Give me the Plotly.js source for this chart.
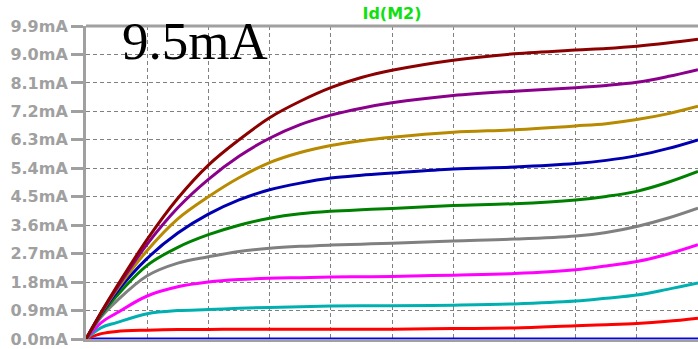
<!DOCTYPE html>
<html>
<head>
<meta charset="utf-8">
<script src="https://cdn.plot.ly/plotly-3.0.1.min.js"></script>
<style>html,body{margin:0;padding:0;background:#fff;}#chart{width:698px;height:349px;}</style>
</head>
<body>
<div id="chart"></div>
<script>
// Drain voltage sweep (V)
const vds = [0, 0.25, 0.5, 1, 1.5, 2, 2.5, 3, 3.5, 4, 4.5, 5, 6, 7, 8, 8.5, 9, 9.5, 10];
// Id(M2) in mA for each gate-voltage step (top to bottom)
const idDarkRed = [0, 0.85, 1.65, 3.15, 4.45, 5.5, 6.3, 7.0, 7.52, 7.95, 8.27, 8.5, 8.82, 9.02, 9.14, 9.19, 9.26, 9.36, 9.48];
const idPurple  = [0, 0.84, 1.6, 3.0, 4.15, 5.05, 5.78, 6.35, 6.78, 7.08, 7.3, 7.47, 7.7, 7.84, 7.95, 8.02, 8.12, 8.3, 8.52];
const idGold    = [0, 0.82, 1.55, 2.8, 3.8, 4.5, 5.1, 5.58, 5.9, 6.12, 6.27, 6.38, 6.54, 6.62, 6.74, 6.81, 6.94, 7.12, 7.36];
const idBlue    = [0, 0.8, 1.48, 2.55, 3.35, 3.95, 4.4, 4.72, 4.93, 5.09, 5.18, 5.25, 5.38, 5.44, 5.55, 5.65, 5.8, 6.02, 6.3];
const idGreen   = [0, 0.76, 1.36, 2.33, 2.9, 3.3, 3.6, 3.82, 3.96, 4.04, 4.09, 4.13, 4.22, 4.28, 4.4, 4.51, 4.67, 4.95, 5.3];
const idGray    = [0, 0.7, 1.2, 2.0, 2.4, 2.6, 2.77, 2.87, 2.93, 2.97, 3.0, 3.03, 3.1, 3.16, 3.26, 3.37, 3.56, 3.82, 4.14];
const idMagenta = [0, 0.52, 0.82, 1.36, 1.65, 1.8, 1.88, 1.92, 1.94, 1.96, 1.97, 1.98, 2.02, 2.07, 2.19, 2.31, 2.45, 2.68, 2.98];
const idCyan    = [0, 0.36, 0.52, 0.8, 0.9, 0.93, 0.97, 1.0, 1.02, 1.04, 1.05, 1.05, 1.07, 1.11, 1.2, 1.29, 1.39, 1.57, 1.77];
const idRed     = [0, 0.17, 0.24, 0.28, 0.3, 0.3, 0.31, 0.31, 0.31, 0.31, 0.31, 0.31, 0.33, 0.35, 0.42, 0.45, 0.49, 0.56, 0.66];
const idOff     = [0, 0, 0, 0, 0, 0, 0, 0, 0, 0, 0, 0, 0, 0, 0, 0, 0, 0, 0];

const seriesList = [idOff, idRed, idCyan, idMagenta, idGray, idGreen, idBlue, idGold, idPurple, idDarkRed];
const seriesColors = ['#0000ff', '#ff0000', '#00b0b0', '#ff00ff', '#808080', '#008000', '#0000b0', '#b88a00', '#8b008b', '#8b0000'];

const yTickVals = [0, 0.9, 1.8, 2.7, 3.6, 4.5, 5.4, 6.3, 7.2, 8.1, 9.0, 9.9];
const yTickText = ['0.0mA', '0.9mA', '1.8mA', '2.7mA', '3.6mA', '4.5mA', '5.4mA', '6.3mA', '7.2mA', '8.1mA', '9.0mA', '9.9mA'];

const traces = seriesList.map((ys, i) => ({
  x: vds, y: ys, type: 'scatter', mode: 'lines',
  line: {color: seriesColors[i], width: 3, shape: 'spline', smoothing: 1},
  hoverinfo: 'skip'
}));

const gray = '#a0a0a0';
const layout = {
  width: 698, height: 349,
  margin: {l: 86, r: 0, t: 26, b: 10, pad: 0},
  paper_bgcolor: '#ffffff', plot_bgcolor: '#ffffff',
  showlegend: false,
  title: {text: 'Id(M2)', font: {family: 'DejaVu Sans', size: 16, color: '#10e010', weight: 'bold'},
          x: 0.5, xref: 'paper', xanchor: 'center', y: 0.962, yref: 'container', yanchor: 'middle'},
  xaxis: {range: [0, 10], tick0: 0, dtick: 1, showgrid: true, gridcolor: '#808080', gridwidth: 1,
          griddash: '4px,3px', zeroline: false, showline: true, linecolor: gray, linewidth: 3,
          showticklabels: false, ticks: '', fixedrange: true},
  yaxis: {range: [0, 9.9], tickmode: 'array', tickvals: yTickVals, ticktext: yTickText,
          ticks: 'outside', ticklen: 12, tickwidth: 3, tickcolor: gray,
          showline: true, linecolor: gray, linewidth: 3, zeroline: false,
          showgrid: true, gridcolor: '#808080', gridwidth: 1, griddash: '4px,3px',
          tickfont: {family: 'DejaVu Sans', size: 16, color: gray, weight: 'bold'}, fixedrange: true},
  shapes: [
    {type: 'line', xref: 'paper', yref: 'paper', x0: 0, x1: 1, y0: 1, y1: 1, line: {color: gray, width: 3}}
  ],
  annotations: [
    {text: '9.5mA', xref: 'paper', yref: 'paper', x: 0.056, y: 0.952, xanchor: 'left', yanchor: 'middle',
     showarrow: false, font: {family: 'Liberation Serif', size: 53, color: '#000000'}},
    {text: 'V(n001)', xref: 'paper', yref: 'paper', x: 0.5, y: 0, xanchor: 'center', yanchor: 'top',
     yshift: -5, showarrow: false, font: {family: 'DejaVu Sans', size: 16, color: '#10e010', weight: 'bold'}}
  ]
};

Plotly.newPlot('chart', traces, layout, {displayModeBar: false, staticPlot: true});
</script>
</body>
</html>
